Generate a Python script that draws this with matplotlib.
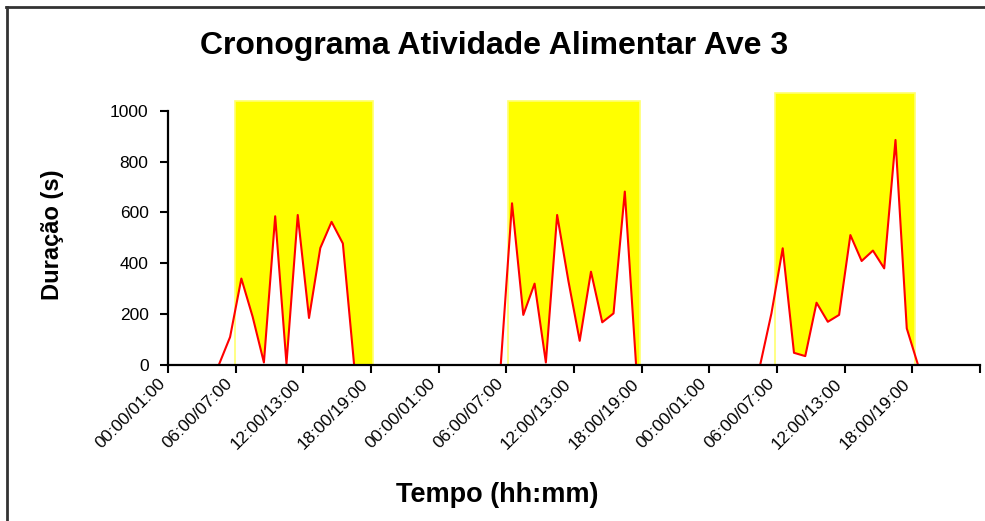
import numpy as np
import matplotlib
matplotlib.use("Agg")
import matplotlib.pyplot as plt
from matplotlib.patches import Rectangle
from matplotlib.lines import Line2D

plt.rcParams['font.family'] = ['Liberation Sans', 'DejaVu Sans']

nan = np.nan

# feeding duration (s) per hourly bin, three consecutive days (72 bins)
day1 = [nan, nan, nan, nan, 0, 110, 340, 190, 10, 585, 5, 590,
        185, 460, 563, 478, 0, nan, nan, nan, nan, nan, nan, nan]
day2 = [nan, nan, nan, nan, nan, 0, 636, 197, 320, 10, 590, 330,
        95, 367, 168, 203, 682, 0, nan, nan, nan, nan, nan, nan]
day3 = [nan, nan, nan, nan, 0, 203, 459, 48, 35, 245, 170, 197,
        511, 409, 450, 380, 885, 144, 0, nan, nan, nan, nan, nan]
duration = np.array(day1 + day2 + day3, dtype=float)

# light period (photophase) per day, in hours from the start of the record
light_start = [5.95, 30.1, 53.8]
light_end = [18.2, 41.85, 66.2]
light_height = [1040, 1040, 1070]

tick_labels = ["00:00/01:00", "06:00/07:00", "12:00/13:00", "18:00/19:00"] * 3

fig = plt.figure(figsize=(9.85, 5.21), dpi=100)
ax = fig.add_axes([0.1706, 0.2994, 0.8244, 0.4881])

# yellow blocks for the light period
for s, e, h in zip(light_start, light_end, light_height):
    ax.add_patch(Rectangle((s, 0), e - s, h, facecolor='#ffff00',
                           edgecolor='none', zorder=1, clip_on=False))

x = np.arange(len(duration)) + 0.5
ok = ~np.isnan(duration)
ax.fill_between(x, 0, duration, where=ok, facecolor='white',
                edgecolor='none', zorder=2)

# pale outline of the light blocks over the white area
for s, e, h in zip(light_start, light_end, light_height):
    ax.add_patch(Rectangle((s, 0), e - s, h, facecolor='none',
                           edgecolor='#ffff70', linewidth=1.2, zorder=3,
                           clip_on=False))

ax.plot(x, duration, color='#ff0000', linewidth=1.5, zorder=4)

ax.set_xlim(0, 72)
ax.set_ylim(0, 1000)
ax.set_xticks(np.arange(0, 73, 6))
ax.set_xticklabels(tick_labels + [""], rotation=45, ha='right',
                   fontsize=12.5)
ax.set_yticks(np.arange(0, 1001, 200))
ax.tick_params(axis='y', labelsize=12.5, length=6, width=1.5,
               direction='out', pad=8)
ax.tick_params(axis='x', length=6, width=1.5, direction='out', pad=2)

for side in ['top', 'right']:
    ax.spines[side].set_visible(False)
for side in ['left', 'bottom']:
    ax.spines[side].set_linewidth(1.6)
    ax.spines[side].set_zorder(5)
ax.patch.set_alpha(0)

fig.text(0.502, 0.912, "Cronograma Atividade Alimentar Ave 3",
         ha='center', va='center', fontsize=23, fontweight='bold')
fig.text(0.053, 0.55, "Duração (s)", rotation=90, ha='center',
         va='center', fontsize=17, fontweight='bold')
fig.text(0.505, 0.05, "Tempo (hh:mm)", ha='center', va='center',
         fontsize=19.5, fontweight='bold')

# frame lines at the top and left edge
fig.add_artist(Line2D([0.0065, 1.0], [0.9858, 0.9858], color='#333333',
                      linewidth=2))
fig.add_artist(Line2D([0.0068, 0.0068], [0.0, 0.9858], color='#333333',
                      linewidth=2))

fig.savefig("out.png", dpi=100)
